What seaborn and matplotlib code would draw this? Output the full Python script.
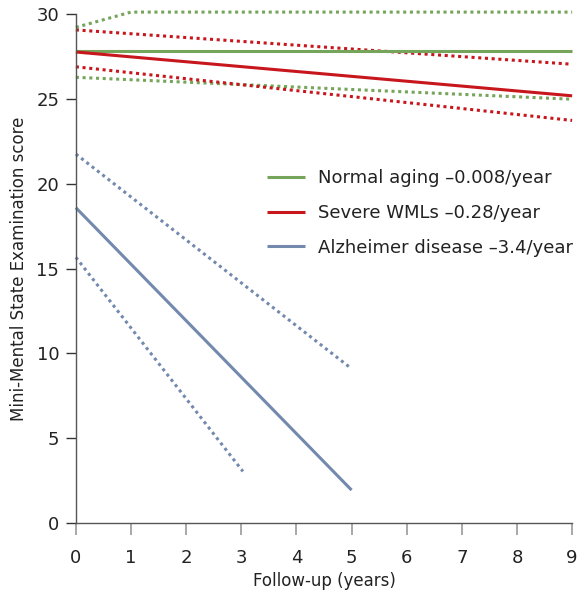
import matplotlib
matplotlib.use("Agg")
import matplotlib.pyplot as plt
import seaborn as sns
import pandas as pd

# ---- data ----
normal_x = [0, 9]
normal_mean = [27.78, 27.78]
normal_upper_x = [0, 1, 9]
normal_upper = [29.2, 30.1, 30.1]
normal_lower = [26.26, 24.97]

severe_x = [0, 9]
severe_mean = [27.75, 25.17]
severe_upper = [29.05, 27.03]
severe_lower = [26.88, 23.72]

ad_x = [0, 5]
ad_mean = [18.58, 1.95]
ad_upper_x = [0, 5]
ad_upper = [21.74, 9.1]
ad_lower_x = [0, 3.03]
ad_lower = [15.66, 3.05]

labels = ["Normal aging \u20130.008/year",
          "Severe WMLs \u20130.28/year",
          "Alzheimer disease \u20133.4/year"]
colors = ["#75a55a", "#c8161d", "#7389ad"]

xticks = list(range(0, 10))
yticks = [0, 5, 10, 15, 20, 25, 30]

sns.set_style("ticks")
plt.rcParams['font.family'] = ['DejaVu Sans']

fig = plt.figure(figsize=(5.88, 6.0), dpi=100)
ax = fig.add_axes([0.129, 0.128, 0.844, 0.849])

dot = (0, (1, 1.2))
lw_solid = 2.2
lw_dot = 2.2

def draw(x, y, color, style, label=None):
    df = pd.DataFrame({"x": x, "y": y})
    sns.lineplot(data=df, x="x", y="y", ax=ax, color=color,
                 linewidth=lw_solid if style == "-" else lw_dot,
                 linestyle=style, label=label, clip_on=False,
                 solid_capstyle="butt", dash_capstyle="butt")

# Normal aging
draw(normal_upper_x, normal_upper, colors[0], dot)
draw(normal_x, normal_lower, colors[0], dot)
# Severe WMLs
draw(severe_x, severe_upper, colors[1], dot)
draw(severe_x, severe_lower, colors[1], dot)
# AD
draw(ad_upper_x, ad_upper, colors[2], dot)
draw(ad_lower_x, ad_lower, colors[2], dot)

draw(normal_x, normal_mean, colors[0], "-", labels[0])
draw(severe_x, severe_mean, colors[1], "-", labels[1])
draw(ad_x, ad_mean, colors[2], "-", labels[2])

ax.set_xlim(0, 9)
ax.set_ylim(0, 30)
ax.set_xticks(xticks)
ax.set_yticks(yticks)
ax.set_xlabel("Follow-up (years)", fontsize=12, color="#222222", labelpad=4)
ax.set_ylabel("Mini-Mental State Examination score", fontsize=12,
              color="#222222", labelpad=6)

for s in ["top", "right"]:
    ax.spines[s].set_visible(False)
for s in ["left", "bottom"]:
    ax.spines[s].set_color("#555555")
    ax.spines[s].set_linewidth(1.0)

ax.tick_params(axis="y", direction="out", length=7, width=1.0,
               color="#333333", labelsize=13, labelcolor="#222222", pad=5)
ax.tick_params(axis="x", direction="out", length=8.5, width=1.2,
               color="#999999", labelsize=13, labelcolor="#222222", pad=10)

leg = ax.legend(loc="upper left", bbox_to_anchor=(0.385, 0.695),
                borderaxespad=0, borderpad=0,
                frameon=False, fontsize=13, handlelength=2.1,
                handletextpad=0.75, labelspacing=0.93)
for h in leg.get_lines():
    h.set_linewidth(2.2)
for t in leg.get_texts():
    t.set_color("#222222")

fig.savefig("out.png", dpi=100)
